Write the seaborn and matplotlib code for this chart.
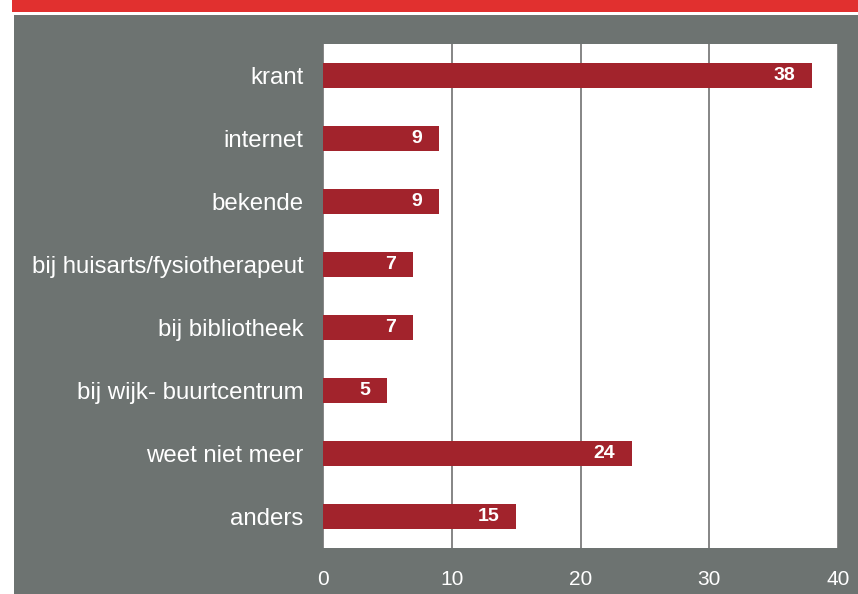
import matplotlib
matplotlib.use("Agg")
import matplotlib.pyplot as plt
import seaborn as sns
import pandas as pd
from matplotlib.patches import Rectangle

categories = [
    "krant",
    "internet",
    "bekende",
    "bij huisarts/fysiotherapeut",
    "bij bibliotheek",
    "bij wijk- buurtcentrum",
    "weet niet meer",
    "anders",
]
counts = [38, 9, 9, 7, 7, 5, 24, 15]
x_ticks = [0, 10, 20, 30, 40]

df = pd.DataFrame({"bron": categories, "aantal": counts})

sns.set_theme(style="white")
plt.rcParams["font.family"] = ["Liberation Sans", "DejaVu Sans"]

W, H = 858, 594
fig = plt.figure(figsize=(W / 100, H / 100), dpi=100)
fig.patch.set_facecolor("white")

# red banner and grey panel behind the chart
fig.patches.append(Rectangle((12 / W, 1 - 12 / H), 1, 12 / H, transform=fig.transFigure,
                             facecolor="#e1302f", edgecolor="none", zorder=-10))
fig.patches.append(Rectangle((14 / W, 0), 1, 1 - 15 / H, transform=fig.transFigure,
                             facecolor="#6d7371", edgecolor="none", zorder=-10))

ax = fig.add_axes([323 / W, 1 - 548 / H, (838 - 323) / W, (548 - 44) / H])
ax.set_zorder(1)
ax.set_facecolor("white")

sns.barplot(data=df, x="aantal", y="bron", ax=ax, color="#a2232c",
            width=0.39, saturation=1, edgecolor="none", zorder=3)

ax.set_xlim(0, 40)
ax.set_ylim(7.5, -0.5)
ax.set_xticks(x_ticks)
ax.set_xticklabels([str(t) for t in x_ticks])
ax.xaxis.grid(True, color="#7c7c7c", linewidth=1.3, zorder=1)
ax.set_axisbelow(True)
for s in ax.spines.values():
    s.set_visible(False)
ax.set_xlabel("")
ax.set_ylabel("")
ax.tick_params(axis="both", length=0, colors="white")
ax.tick_params(axis="y", pad=14, labelsize=17.3)
ax.tick_params(axis="x", pad=16, labelsize=15)

for i, v in enumerate(counts):
    ax.text(v - 1.3, i, str(v), ha="right", va="center", color="white",
            fontsize=14, fontweight="bold", zorder=4)

fig.savefig("out.png", dpi=100, facecolor=fig.get_facecolor())
